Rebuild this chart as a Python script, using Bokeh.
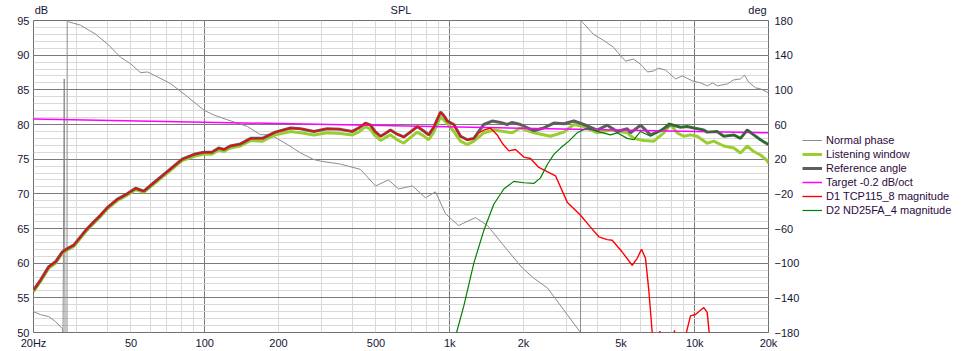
from bokeh.plotting import figure
from bokeh.layouts import row
from bokeh.models import (Range1d, LinearAxis, LogAxis, FixedTicker, CustomJSTickFormatter,
                          Legend, LegendItem)
from bokeh.embed import file_html
from bokeh.resources import INLINE

# ---------------- data ----------------
x_ticks = [20, 50, 100, 200, 500, 1000, 2000, 5000, 10000, 20000]
db_ticks = [50, 55, 60, 65, 70, 75, 80, 85, 90, 95]
deg_ticks = [-180, -140, -100, -60, -20, 20, 60, 100, 140, 180]
header_texts = ["dB", "SPL", "deg"]

ref_f = [20, 21.4, 23.1, 24.6, 26.2, 27.5, 29.2, 32.6, 34.7, 37.5, 40, 43.9, 48.2, 52.2,
         56.4, 61.9, 68.1, 74.8, 80.9, 90.5, 99, 107, 114, 120, 127, 140, 154, 172, 194,
         224, 246, 279, 316, 358, 400, 425, 453, 475, 495, 522, 545, 573, 610, 649, 690,
         737, 780, 821, 860, 917, 950, 977, 1039, 1070, 1107, 1179, 1254, 1314, 1377,
         1490, 1611, 1716, 1798, 1944, 2204, 2421, 2660, 2922, 3210, 3526, 3998, 4392,
         4825, 5301, 5467, 6007, 6600, 7250, 7962, 8747, 9314, 9910, 10888, 11242, 12348,
         13140, 14436, 15371, 16371, 17420, 18552, 20000]
ref_db = [56.1, 57.6, 59.5, 60.2, 61.6, 62.1, 62.6, 64.7, 65.7, 66.9, 68.0, 69.2, 70.0, 70.8,
          70.4, 71.6, 72.8, 74.0, 75.0, 75.7, 76.0, 76.0, 76.6, 76.4, 76.9, 77.2, 78.0, 78.0, 78.9,
          79.5, 79.4, 79.0, 79.4, 79.3, 79.0, 79.5, 80.2, 79.9, 79.0, 78.3, 78.7, 79.2, 78.6, 78.2, 78.9,
          79.7, 79.1, 78.5, 79.6, 81.8, 81.2, 80.5, 80.0, 79.2, 78.3, 77.8, 78.0, 79.0, 80.0,
          80.5, 80.3, 80.0, 80.3, 80.0, 79.1, 79.5, 80.2, 80.1, 80.5, 80.0, 79.2, 79.9,
          79.0, 79.4, 78.8, 79.9, 78.5, 79.1, 80.0, 79.6, 79.7, 79.5, 79.2, 78.9, 79.0,
          78.3, 78.5, 78.0, 79.2, 78.5, 77.8, 77.1]

lw_f = [20, 21.4, 23.1, 24.6, 26.2, 27.5, 29.2, 32.6, 34.7, 37.5, 40, 43.9, 48.2, 52.2,
        56.4, 61.9, 68.1, 74.8, 80.9, 90.5, 99, 107, 114, 120, 127, 140, 154, 172, 194,
        224, 246, 279, 316, 358, 400, 425, 453, 475, 495, 522, 545, 573, 610, 649, 690,
        737, 780, 821, 860, 917, 950, 991, 1039, 1070, 1107, 1179, 1254, 1314, 1377,
        1513, 1662, 1798, 1944, 2204, 2578, 2922, 3210, 3526, 3998, 4530, 5301, 5638,
        6194, 6804, 7476, 7962, 8480, 9022, 9608, 10234, 11242, 11958, 13140, 14436,
        15371, 16371, 17420, 18552, 19750, 20000]
lw_db = [55.9, 57.4, 59.3, 60.0, 61.4, 61.9, 62.4, 64.5, 65.5, 66.7, 67.8, 69.0, 69.8, 70.6,
         70.2, 71.4, 72.6, 73.8, 74.8, 75.4, 75.7, 75.7, 76.3, 76.1, 76.6, 76.9, 77.7, 77.6, 78.5,
         79.0, 78.8, 78.5, 78.8, 78.7, 78.5, 78.9, 79.7, 79.3, 78.4, 77.7, 78.1, 78.5, 77.8, 77.3, 78.1,
         78.9, 78.4, 77.8, 78.9, 81.1, 80.6, 79.9, 79.0, 78.3, 77.6, 77.1, 77.6, 78.2, 78.8,
         79.2, 79.0, 78.8, 79.5, 78.8, 78.3, 78.9, 80.0, 79.7, 78.8, 79.2, 78.8, 78.0,
         77.7, 77.6, 78.8, 80.0, 78.8, 78.3, 78.5, 78.3, 77.3, 77.6, 76.9, 76.6,
         75.9, 76.9, 76.1, 75.6, 74.8, 74.4]

d1_f = [20, 21.4, 23.1, 24.6, 26.2, 27.5, 29.2, 32.6, 34.7, 37.5, 40, 43.9, 48.2, 52.2,
        56.4, 61.9, 68.1, 74.8, 80.9, 90.5, 99, 107, 114, 120, 127, 140, 154, 172, 194,
        224, 246, 279, 316, 358, 400, 425, 453, 475, 495, 522, 545, 573, 610, 649, 690,
        737, 780, 821, 860, 917, 950, 977, 1039, 1070, 1107, 1179, 1254, 1314, 1377,
        1466, 1562, 1638, 1742, 1855, 2006, 2137, 2309, 2499, 2702, 3016, 3418, 3754,
        4059, 4392, 4603, 5058, 5556, 5823, 6062, 6296, 6494, 6705, 6950, 7202, 7500,
        8000, 8268, 8600, 9168, 9608, 10070, 10888, 11242, 11520, 12000, 20000]
d1_db = [56.1, 57.6, 59.5, 60.2, 61.6, 62.1, 62.6, 64.7, 65.7, 66.9, 68.0, 69.2, 70.0, 70.8,
         70.4, 71.6, 72.8, 74.0, 75.0, 75.7, 76.0, 76.0, 76.6, 76.4, 76.9, 77.2, 78.0, 78.0, 78.9,
         79.5, 79.4, 79.0, 79.4, 79.3, 79.0, 79.5, 80.2, 79.9, 79.0, 78.3, 78.7, 79.2, 78.6, 78.2, 78.9,
         79.7, 79.1, 78.5, 79.6, 81.8, 81.2, 80.5, 80.0, 79.2, 78.3, 77.8, 78.0, 78.8, 79.2,
         79.5, 78.5, 77.3, 76.2, 76.4, 75.3, 75.1, 73.8, 73.2, 72.6, 68.8, 66.9, 65.2,
         63.8, 63.4, 63.3, 61.6, 59.7, 60.7, 62.0, 60.7, 56.1, 50.0, 45.0, 50.2, 45.0,
         45.0, 50.3, 45.0, 49.5, 52.4, 52.6, 53.6, 52.9, 49.0, 40.0, 40.0]

d2_f = [1000, 1066, 1141, 1254, 1377, 1513, 1662, 1826, 2006, 2204, 2346, 2499, 2660, 2832,
        3062, 3312, 3639, 3998, 4530, 4825, 5301, 5638, 6007, 6600, 7250, 7836, 8747, 9314,
        9910, 10888, 11242, 12348, 13140, 14436, 15371, 16371, 17420, 18552, 20000]
d2_db = [45.0, 50.0, 53.8, 60.0, 64.7, 68.5, 70.7, 71.8, 71.6, 71.5, 72.3, 74.2, 75.7, 76.6,
         77.6, 78.8, 79.5, 79.0, 78.5, 78.8, 78.0, 77.8, 79.0, 78.3, 79.1, 80.2, 79.6, 79.7,
         79.5, 79.2, 78.9, 79.0, 78.3, 78.5, 78.0, 79.2, 78.5, 77.8, 77.1]

target_f = [20, 20000]
target_db = [80.8, 78.8]

phase_f = [20, 21.4, 23.1, 24.6, 26.2, 26.4, 26.7, 26.9, 27.4, 27.45, 27.8, 31.1, 35.8, 40.1,
           45.3, 49.8, 54.7, 58.4, 64.2, 72.5, 85.1, 98.9, 108.6, 123.8, 149.4, 168.9, 185.5,
           217.7, 246, 278, 297, 358, 432, 498, 562, 618, 705, 796, 875, 961, 1086, 1274,
           1426, 1721, 1981, 2198, 2506, 2914, 3418, 3430, 3482, 3862, 4242, 4660, 4838,
           5218, 5623, 6007, 6414, 6787, 7112, 7596, 8348, 8914, 9792, 10554, 11272, 11814,
           12383, 13610, 14396, 15371, 15960, 16572, 17702, 18552, 20000]
phase_deg = [-156.0, -159.4, -161.7, -167.4, -175.4, -180, 112.6, -180, -180, 180, 178.5, 174.6,
             164.3, 152.9, 137.7, 130.1, 119.8, 120.6, 114.9, 107.2, 92.0, 76.8, 71.1, 65.4,
             57.7, 48.2, 48.2, 36.8, 27.2, 19.7, 17.7, 14.3, 8.2, -10.9, -4.0, -14.3, -10.9,
             -24.6, -17.7, -42.9, -56.6, -47.4, -56.6, -85.1, -105.7, -117.1, -128.6, -153.7,
             -180, 180, 178, 164, 157.1, 149.1, 143.4, 133.1, 135.4, 129.7, 120.6, 121.7,
             125.1, 122.9, 112.6, 116.0, 110.3, 108.0, 104.6, 108.0, 104.6, 106.9, 111.4,
             112.6, 117.1, 109.1, 102.3, 101.1, 96.6]

series_names = ["Normal phase", "Listening window", "Reference angle",
                "Target -0.2 dB/oct", "D1 TCP115_8 magnitude", "D2 ND25FA_4 magnitude"]

# ---------------- styles ----------------
FONT = "Liberation Sans"
TXT = "#151535"
styles = [dict(line_color="#8c8c8c", line_width=1),
          dict(line_color="#9acd32", line_width=3),
          dict(line_color="#5e5e5e", line_width=3),
          dict(line_color="#ff00ff", line_width=1.5),
          dict(line_color="#ff0000", line_width=1.4),
          dict(line_color="#008000", line_width=1.2)]
series = [(phase_f, phase_deg), (lw_f, lw_db), (ref_f, ref_db),
          (target_f, target_db), (d1_f, d1_db), (d2_f, d2_db)]

# ---------------- main figure ----------------
p = figure(width=802, height=351, x_axis_type="log",
           x_range=Range1d(20, 20000), y_range=Range1d(50, 95),
           output_backend="svg", toolbar_location=None,
           min_border_left=33, min_border_top=18, min_border_right=34, min_border_bottom=18,
           background_fill_color="white", border_fill_color="white")
p.extra_y_ranges = {"deg": Range1d(-180, 180)}
p.outline_line_color = "#707070"
p.outline_line_width = 1

minor_x = []
for dec in (10, 100, 1000, 10000):
    for m in range(1, 10):
        v = dec * m
        if 20 <= v <= 20000:
            minor_x.append(v)
minor_x.append(20000)


def style_axis(ax, standoff):
    ax.axis_line_color = None
    ax.major_tick_line_color = None
    ax.minor_tick_line_color = None
    ax.major_tick_out = 0
    ax.major_tick_in = 0
    ax.minor_tick_out = 0
    ax.minor_tick_in = 0
    ax.axis_label = None
    ax.axis_label_standoff = 0
    ax.major_label_text_font = FONT
    ax.major_label_text_font_size = "11px"
    ax.major_label_text_color = TXT
    ax.major_label_standoff = standoff


xa = p.xaxis[0]
xa.ticker = FixedTicker(ticks=x_ticks, minor_ticks=minor_x)
xa.formatter = CustomJSTickFormatter(code="""
if (tick == 20) return '20Hz';
if (tick >= 1000) return (tick/1000) + 'k';
return '' + tick;
""")
style_axis(xa, 4)

ya = p.yaxis[0]
ya.ticker = FixedTicker(ticks=db_ticks, minor_ticks=list(range(50, 96)))
style_axis(ya, 4)

ra = LinearAxis(y_range_name="deg", ticker=FixedTicker(ticks=deg_ticks))
style_axis(ra, 6)
p.add_layout(ra, "right")

# header texts ("dB", "SPL", "deg") as labels of a top axis
ta = LogAxis(ticker=FixedTicker(ticks=[21.55, 632.5, 18040]),
             formatter=CustomJSTickFormatter(args=dict(names=header_texts), code="""
if (tick < 100) return names[0];
if (tick > 10000) return names[2];
return names[1];
"""))
style_axis(ta, 5)
p.add_layout(ta, "above")

p.xgrid.ticker = FixedTicker(ticks=[100, 1000, 10000], minor_ticks=minor_x)
p.xgrid.grid_line_color = "#7a7a7a"
p.xgrid.minor_grid_line_color = "#d9d9d9"
p.ygrid.ticker = FixedTicker(ticks=db_ticks, minor_ticks=list(range(50, 96)))
p.ygrid.grid_line_color = "#7a7a7a"
p.ygrid.minor_grid_line_color = "#d9d9d9"

p.line(phase_f, phase_deg, y_range_name="deg", **styles[0])
p.line(lw_f, lw_db, **styles[1])
p.line(ref_f, ref_db, **styles[2])
p.line(target_f, target_db, **styles[3])
p.line(d1_f, d1_db, **styles[4])
p.line(d2_f, d2_db, **styles[5])

# ---------------- legend panel ----------------
# ranges chosen so the series themselves stay out of view; only the legend shows
pl = figure(width=158, height=351, x_range=Range1d(-2, -1), y_range=Range1d(-2000, -1000),
            x_axis_location=None, y_axis_location=None, output_backend="svg",
            toolbar_location=None, min_border=0, outline_line_color=None,
            background_fill_color="white", border_fill_color="white")
pl.grid.visible = False
items = []
for name, st, (xs, ys) in zip(series_names, styles, series):
    r = pl.line(xs, ys, **st)
    items.append(LegendItem(label=name, renderers=[r]))
legend = Legend(items=items, location=(0, 115))
legend.label_text_font = FONT
legend.label_text_font_size = "11px"
legend.label_text_color = "#2b0a3d"
legend.glyph_width = 20
legend.glyph_height = 14
legend.label_height = 14
legend.spacing = 0
legend.padding = 0
legend.margin = 0
legend.label_standoff = 4
legend.border_line_color = None
legend.background_fill_alpha = 0
pl.add_layout(legend)

layout = row(p, pl)
open("out.html", "w").write(file_html(layout, INLINE))
